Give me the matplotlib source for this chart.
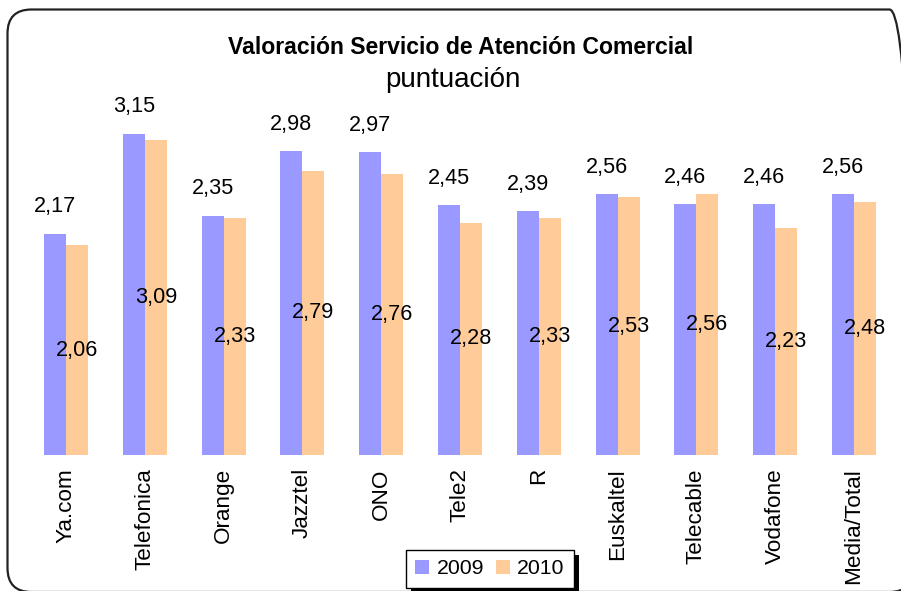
import matplotlib
matplotlib.use('AGG')
import matplotlib.pyplot as plt
import numpy as np
from matplotlib.patches import FancyBboxPatch, Rectangle

plt.rcParams['font.family'] = ['Liberation Sans', 'DejaVu Sans']

# datos
empresas = ['Ya.com', 'Telefonica', 'Orange', 'Jazztel', 'ONO', 'Tele2', 'R',
            'Euskaltel', 'Telecable', 'Vodafone', 'Media/Total']
v2009 = [2.17, 3.15, 2.35, 2.98, 2.97, 2.45, 2.39, 2.56, 2.46, 2.46, 2.56]
v2010 = [2.06, 3.09, 2.33, 2.79, 2.76, 2.28, 2.33, 2.53, 2.56, 2.23, 2.48]
series = ['2009', '2010']

azul = '#9999FF'
melocoton = '#FFCC99'

W, H = 901, 591
fig = plt.figure(figsize=(W / 100, H / 100), dpi=100)

# marco redondeado (en pulgadas, 1 in = 100 px); borde derecho fuera de la imagen
marco = FancyBboxPatch((0.075, -0.01), 9.06, 5.825,
                       boxstyle='round,pad=0,rounding_size=0.24',
                       transform=fig.dpi_scale_trans, facecolor='none',
                       edgecolor='#222222', linewidth=1.6, zorder=0)
fig.patches.append(marco)

# plot area: centro categoria 0 en x=66px, paso 78.8px; base y=455px
ax = fig.add_axes([26.6 / W, (H - 455) / H, 866.8 / W, 356.7 / H])
ax.patch.set_alpha(0)
x = np.arange(len(empresas))
w = 0.28
b1 = ax.bar(x - w / 2, v2009, w, color=azul, label=series[0])
b2 = ax.bar(x + w / 2, v2010, w, color=melocoton, label=series[1])
ax.set_xlim(-0.5, len(empresas) - 0.5)
ax.set_ylim(0, 3.5)

fmt = lambda v: ('%.2f' % v).replace('.', ',')
for xi, v in zip(x, v2009):
    ax.text(xi - w / 2, v + 0.265, fmt(v), ha='center', va='center', fontsize=15.6)
for xi, v in zip(x, v2010):
    ax.text(xi + w / 2, v / 2, fmt(v), ha='center', va='center', fontsize=15.6)

ax.set_xticks(x)
ax.set_xticklabels(empresas, rotation=90, fontsize=16.2, va='top')
ax.tick_params(axis='x', length=0, pad=9.5)
ax.set_yticks([])
for s in ax.spines.values():
    s.set_visible(False)

fig.text(461 / W, 1 - 48 / H, 'Valoración Servicio de Atención Comercial',
         ha='center', va='center', fontsize=16.6, fontweight='bold')
fig.text(453 / W, 1 - 80 / H, 'puntuación', ha='center', va='center', fontsize=20)

leg = fig.legend(handles=[b1, b2], labels=series, loc='center',
                 bbox_to_anchor=(490 / W, 22 / H), ncol=2, fontsize=15.3,
                 frameon=True, fancybox=False, framealpha=1,
                 handlelength=0.66, handleheight=0.66, handletextpad=0.35,
                 columnspacing=0.55, borderpad=0.45, borderaxespad=0)
leg.get_frame().set_edgecolor('black')
leg.get_frame().set_linewidth(1)

# sombra negra de la leyenda
fig.canvas.draw()
bb = leg.get_window_extent()
sombra = Rectangle((bb.x0 + 5, bb.y0 - 5), bb.width, bb.height, transform=None,
                   facecolor='black', edgecolor='none', zorder=4)
fig.patches.append(sombra)

plt.savefig('out.png', dpi=100)
